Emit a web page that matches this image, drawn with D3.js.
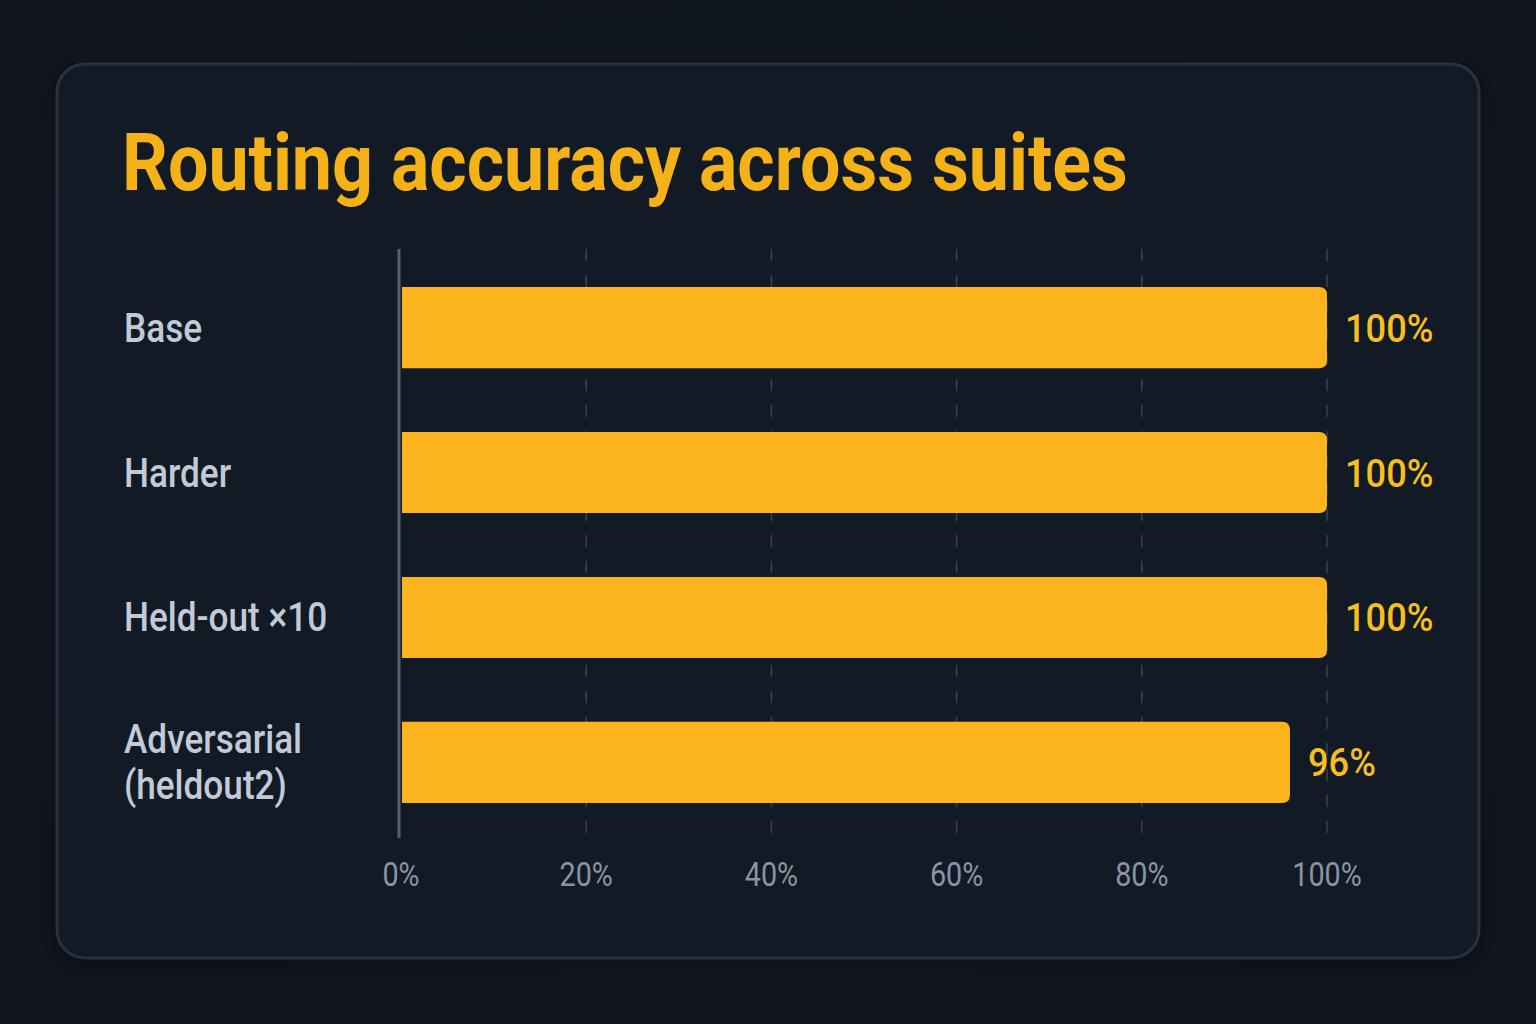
<!DOCTYPE html>
<html><head><meta charset="utf-8">
<script src="https://cdn.jsdelivr.net/npm/d3@7"></script>
<style>
html,body{margin:0;padding:0;background:#111722;}
svg{display:block;}
</style></head>
<body>
<svg id="chart" width="1536" height="1024"></svg>
<script>
const title = "Routing accuracy across suites";
const categories = [["Base"], ["Harder"], ["Held-out ×10"], ["Adversarial", "(heldout2)"]];
const values = [100, 100, 100, 96];
const valueLabels = ["100%", "100%", "100%", "96%"];
const ticks = [0, 20, 40, 60, 80, 100];
const tickLabels = ["0%", "20%", "40%", "60%", "80%", "100%"];

(function(){
const svg = d3.select("#chart");
const W = 1536, H = 1024;
const defs = svg.append("defs");
const bg = defs.append("radialGradient").attr("id","bg").attr("cx","50%").attr("cy","45%").attr("r","70%");
bg.append("stop").attr("offset","0%").attr("stop-color","#131a25");
bg.append("stop").attr("offset","100%").attr("stop-color","#10151e");
svg.append("rect").attr("width",W).attr("height",H).attr("fill","url(#bg)");

const blur = defs.append("filter").attr("id","blur").attr("x","-10%").attr("y","-10%").attr("width","120%").attr("height","120%")
  .attr("color-interpolation-filters","sRGB");
blur.append("feGaussianBlur").attr("stdDeviation",8);

// card shadow + card
svg.append("rect").attr("x",57).attr("y",68).attr("width",1422).attr("height",894).attr("rx",28)
  .attr("fill","#000").attr("opacity",0.4).attr("filter","url(#blur)");
svg.append("rect").attr("x",57).attr("y",64).attr("width",1422).attr("height",894).attr("rx",28)
  .attr("fill","#121a25").attr("stroke","#2a313c").attr("stroke-width",3);

// title
const t = svg.append("text").attr("x",122).attr("y",190).text(title)
  .attr("font-family","Roboto, 'Noto Sans', sans-serif").attr("font-weight",700).attr("font-size",80)
  .attr("fill","#f5b118");
{
  const w = t.node().getComputedTextLength();
  const s = 1006 / w;
  t.attr("transform",`translate(122,0) scale(${s},1) translate(-122,0)`);
}

const x = d3.scaleLinear().domain([0,100]).range([401,1327]);
const y = d3.scaleBand().domain(d3.range(categories.length)).range([287,803]).paddingInner(0.44).paddingOuter(0);
const yTop = 249, yBottom = 838;

const g = svg.append("g");
// grid
g.selectAll("line.grid").data(ticks.filter(d=>d>0)).join("line")
  .attr("x1",d=>x(d)).attr("x2",d=>x(d)).attr("y1",yTop).attr("y2",yBottom)
  .attr("stroke","#3a424f").attr("stroke-width",1.5).attr("stroke-dasharray","12,14");

// bars: flat left, rounded right
const r = 8;
g.selectAll("path.bar").data(values).join("path")
  .attr("d",(d,i)=>{
    const x0 = x(0)+1, x1 = x(d), y0 = y(i), h = y.bandwidth();
    return `M${x0},${y0} H${x1-r} Q${x1},${y0} ${x1},${y0+r} V${y0+h-r} Q${x1},${y0+h} ${x1-r},${y0+h} H${x0} Z`;
  })
  .attr("fill","#fbb41e");

// axis line
g.append("line").attr("x1",399).attr("x2",399).attr("y1",yTop).attr("y2",yBottom)
  .attr("stroke","#56606e").attr("stroke-width",3);

// value labels
const vl = g.selectAll("text.val").data(values).join("text")
  .attr("x",(d)=>x(d)+18).attr("y",(d,i)=>y(i)+y.bandwidth()/2+14)
  .attr("font-family","Roboto, sans-serif").attr("font-weight",500).attr("font-size",39)
  .attr("fill","#f7be22").text((d,i)=>valueLabels[i]);
vl.each(function(){
  const el = d3.select(this); const xx = +el.attr("x");
  el.attr("transform",`translate(${xx},0) scale(0.93,1) translate(${-xx},0)`);
});

// category labels
const cl = g.selectAll("text.cat").data(categories).join("text")
  .attr("font-family","Roboto, sans-serif").attr("font-weight",500).attr("font-size",40)
  .attr("fill","#c2cad7")
  .attr("transform",(d,i)=>{
    const yc = y(i)+y.bandwidth()/2;
    const n = d.length, lh = 46;
    const yb = yc + 14 - (n-1)*lh/2;
    return `translate(124,${yb}) scale(0.88,1)`;
  });
cl.each(function(d){
  const el = d3.select(this);
  d.forEach((line,j)=> el.append("tspan").attr("x",0).attr("y",j*46).text(line));
});

// tick labels
g.selectAll("text.tick").data(ticks).join("text")
  .attr("text-anchor","middle").attr("font-family","Roboto, sans-serif").attr("font-size",33)
  .attr("fill","#8a94a4")
  .attr("transform",d=>`translate(${x(d)},886) scale(0.87,1)`)
  .text((d,i)=>tickLabels[i]);
})();
</script>
</body></html>
